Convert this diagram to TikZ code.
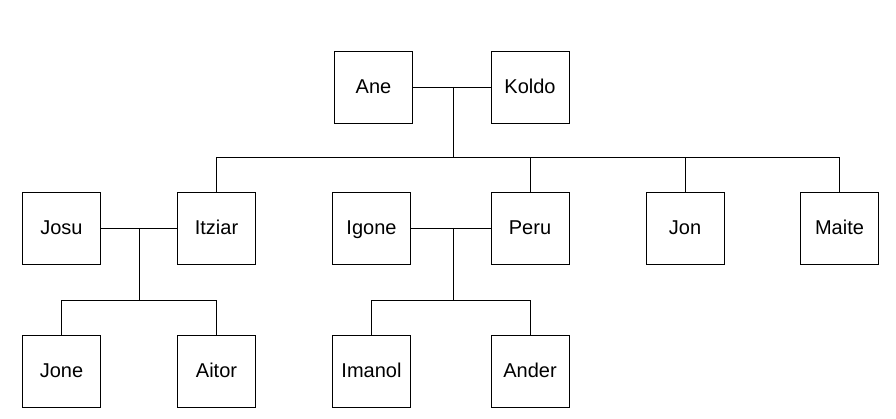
\documentclass[tikz,border=0pt]{standalone}
\usepackage{fontspec}
\setmainfont{Liberation Sans}
\begin{document}
\begin{tikzpicture}[x=1pt,y=-1pt,
  box/.style={draw,line width=0.8pt,minimum width=78pt,minimum height=72pt,inner sep=0pt,text height=14pt,text depth=1pt,font=\fontsize{20}{23}\selectfont},
  ln/.style={line width=0.8pt}]
\useasboundingbox (0,0) rectangle (896,419);
\node[box] (ane) at (373.5,87) {Ane};
\node[box] (koldo) at (530,87) {Koldo};
\node[box] (josu) at (61.5,228) {Josu};
\node[box] (itziar) at (216.5,228) {Itziar};
\node[box] (igone) at (371.5,228) {Igone};
\node[box] (peru) at (530,228) {Peru};
\node[box] (jon) at (685,228) {Jon};
\node[box] (maite) at (839.5,228) {Maite};
\node[box] (jone) at (61.5,371) {Jone};
\node[box] (aitor) at (216.5,371) {Aitor};
\node[box] (imanol) at (371.5,371) {Imanol};
\node[box] (ander) at (530,371) {Ander};
\coordinate (m1) at (453,87);
\coordinate (b1) at (453,157);
\coordinate (m2) at (139,228);
\coordinate (b2) at (139,300);
\coordinate (m3) at (453,228);
\coordinate (b3) at (453,300);
\draw[ln] (ane) -- (koldo);
\draw[ln] (m1) -- (b1);
\draw[ln] (itziar.north) -- (itziar.north |- b1) -- (maite.north |- b1) -- (maite.north);
\draw[ln] (peru.north) -- (peru.north |- b1);
\draw[ln] (jon.north) -- (jon.north |- b1);
\draw[ln] (josu) -- (itziar);
\draw[ln] (m2) -- (b2);
\draw[ln] (jone.north) -- (jone.north |- b2) -- (aitor.north |- b2) -- (aitor.north);
\draw[ln] (igone) -- (peru);
\draw[ln] (m3) -- (b3);
\draw[ln] (imanol.north) -- (imanol.north |- b3) -- (ander.north |- b3) -- (ander.north);
\end{tikzpicture}
\end{document}
